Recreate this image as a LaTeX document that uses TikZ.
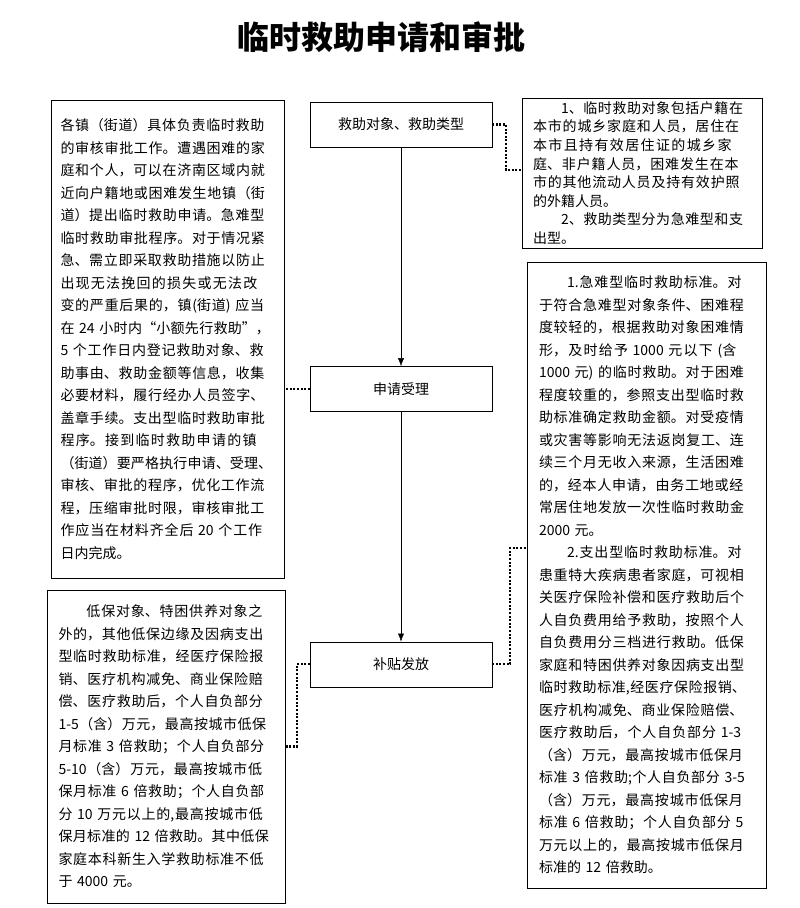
\documentclass[tikz,border=0pt]{standalone}
\usepackage{fontspec}
\setmainfont{Noto Sans CJK SC}
\usepackage{tikz}
\usetikzlibrary{arrows.meta, positioning}
\XeTeXlinebreaklocale "zh"
\XeTeXlinebreakskip=0pt plus 2pt
\newcommand\notepar{\parindent=0pt\relax\tolerance=10000\relax}

\begin{document}
\begin{tikzpicture}[
  x=1pt, y=-1pt,
  node distance=219pt,
  stepbox/.style={draw, minimum width=182pt, minimum height=45pt, font=\fontsize{14}{17}\selectfont},
  notebox/.style={draw, inner sep=0pt, font=\fontsize{14}{22.5}\selectfont},
  arrow/.style={-{Latex[length=8pt, width=6pt]}},
  dotline/.style={line width=2.2pt, dash pattern=on 2pt off 1.6pt},
]
\useasboundingbox (0,0) rectangle (800,908);

% Title
\node[font=\fontsize{32}{36}\selectfont\bfseries] (title) at (381,37) {临时救助申请和审批};

% Nodes
\node[stepbox] (type) at (401,124.5) {救助对象、救助类型};
\node[stepbox, below=of type] (apply) {申请受理};
\node[stepbox, below=230pt of apply] (grant) {补贴发放};

\node[notebox, text width=214pt, minimum width=233pt, minimum height=478pt] (proc) at (167.5,339) {\notepar
各镇（街道）具体负责临时救助\linebreak
的审核审批工作。遭遇困难的家\linebreak
庭和个人，可以在济南区域内就\linebreak
近向户籍地或困难发生地镇（街\linebreak
道）提出临时救助申请。急难型\linebreak
临时救助审批程序。对于情况紧\linebreak
急、需立即采取救助措施以防止\linebreak
出现无法挽回的损失或无法改\linebreak
变的严重后果的，镇(街道) 应当\linebreak
在 24 小时内“小额先行救助”，\linebreak
5 个工作日内登记救助对象、救\linebreak
助事由、救助金额等信息，收集\linebreak
必要材料，履行经办人员签字、\linebreak
盖章手续。支出型临时救助审批\linebreak
程序。接到临时救助申请的镇\linebreak
（街道）要严格执行申请、受理、\linebreak
审核、审批的程序，优化工作流\linebreak
程，压缩审批时限，审核审批工\linebreak
作应当在材料齐全后 20 个工作\linebreak
日内完成。};

\node[notebox, font=\fontsize{14}{18.6}\selectfont, text width=218pt, minimum width=240pt, minimum height=150pt] (note) at (642,173) {\notepar
\hspace*{2em}1、临时救助对象包括户籍在\linebreak
本市的城乡家庭和人员，居住在\linebreak
本市且持有效居住证的城乡家\linebreak
庭、非户籍人员，困难发生在本\linebreak
市的其他流动人员及持有效护照\linebreak
的外籍人员。\par
\hspace*{2em}2、救助类型分为急难型和支\linebreak
出型。};

\node[notebox, text width=215pt, minimum width=239pt, minimum height=626pt] (std) at (646.5,575) {\notepar
\hspace*{2em}1.急难型临时救助标准。对\linebreak
于符合急难型对象条件、困难程\linebreak
度较轻的，根据救助对象困难情\linebreak
形，及时给予 1000 元以下 (含\linebreak
1000 元) 的临时救助。对于困难\linebreak
程度较重的，参照支出型临时救\linebreak
助标准确定救助金额。对受疫情\linebreak
或灾害等影响无法返岗复工、连\linebreak
续三个月无收入来源，生活困难\linebreak
的，经本人申请，由务工地或经\linebreak
常居住地发放一次性临时救助金\linebreak
2000 元。\par
\hspace*{2em}2.支出型临时救助标准。对\linebreak
患重特大疾病患者家庭，可视相\linebreak
关医疗保险补偿和医疗救助后个\linebreak
人自负费用给予救助，按照个人\linebreak
自负费用分三档进行救助。低保\linebreak
家庭和特困供养对象因病支出型\linebreak
临时救助标准,经医疗保险报销、\linebreak
医疗机构减免、商业保险赔偿、\linebreak
医疗救助后，个人自负部分 1-3\linebreak
（含）万元，最高按城市低保月\linebreak
标准 3 倍救助;个人自负部分 3-5\linebreak
（含）万元，最高按城市低保月\linebreak
标准 6 倍救助；个人自负部分 5\linebreak
万元以上的，最高按城市低保月\linebreak
标准的 12 倍救助。};

\node[notebox, text width=215pt, minimum width=238pt, minimum height=313pt] (low) at (166,746.5) {\notepar
\hspace*{2em}低保对象、特困供养对象之\linebreak
外的，其他低保边缘及因病支出\linebreak
型临时救助标准，经医疗保险报\linebreak
销、医疗机构减免、商业保险赔\linebreak
偿、医疗救助后，个人自负部分\linebreak
1-5（含）万元，最高按城市低保\linebreak
月标准 3 倍救助；个人自负部分\linebreak
5-10（含）万元，最高按城市低\linebreak
保月标准 6 倍救助；个人自负部\linebreak
分 10 万元以上的,最高按城市低\linebreak
保月标准的 12 倍救助。其中低保\linebreak
家庭本科新生入学救助标准不低\linebreak
于 4000 元。};

% Arrows
\draw[arrow] (type) -- (apply);
\draw[arrow] (apply) -- (grant);

% Dotted links
\draw[dotline] (type.east) -- ++(14,0) |- ([yshift=3pt]note.west);
\draw[dotline] (apply.west) -- (apply.west -| proc.east);
\draw[dotline] (grant.east) -- ++(18,0) |- ([yshift=27pt]std.west);
\draw[dotline] (grant.west) -- ++(-13,0) |- (low.east);
\end{tikzpicture}
\end{document}
